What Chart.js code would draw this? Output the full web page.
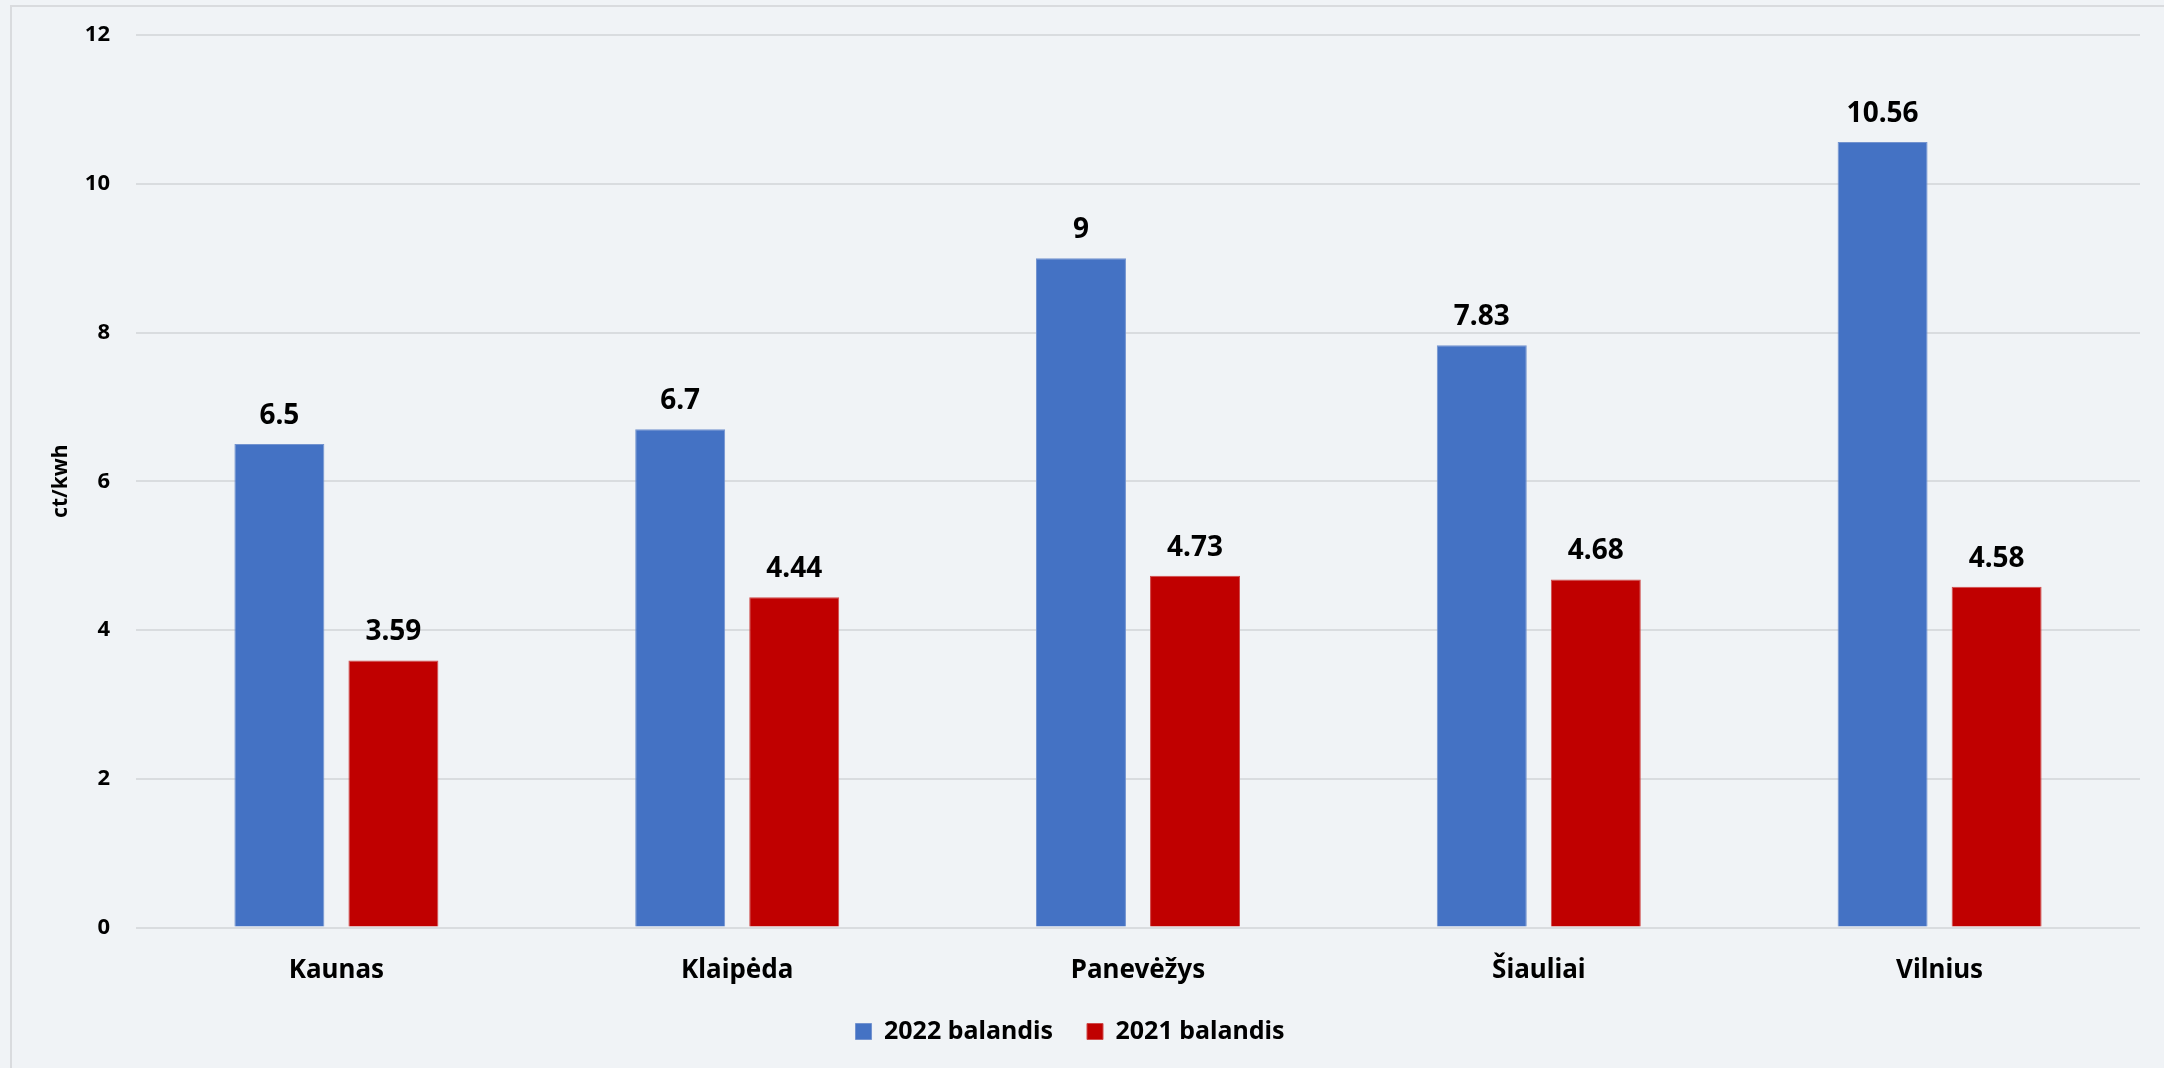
<!DOCTYPE html>
<html>
<head>
<meta charset="utf-8">
<script src="https://cdn.jsdelivr.net/npm/chart.js@4.4.1/dist/chart.umd.min.js"></script>
<style>
  html, body { margin: 0; padding: 0; background: #F0F3F6; }
  #wrap { width: 2164px; height: 1068px; position: relative; }
</style>
</head>
<body>
<div id="wrap"><canvas id="c" width="2164" height="1068"></canvas></div>
<script>
const categories = ['Kaunas', 'Klaipėda', 'Panevėžys', 'Šiauliai', 'Vilnius'];
const series2022 = [6.5, 6.7, 9, 7.83, 10.56];
const series2021 = [3.59, 4.44, 4.73, 4.68, 4.58];
const seriesNames = ['2022 balandis', '2021 balandis'];
const yTicks = [0, 2, 4, 6, 8, 10, 12];
const yTitle = 'ct/kwh';

const FONT = "'Noto Sans', 'DejaVu Sans', sans-serif";

const bgPlugin = {
  id: 'bg',
  beforeLayout(chart) {
    const lg = chart.legend;
    if (lg && !lg._patched) {
      const f = lg.fit;
      lg.fit = function () { f.call(this); this.height = 83; };
      lg._patched = true;
    }
  },
  beforeDraw(chart) {
    const ctx = chart.ctx;
    ctx.save();
    ctx.fillStyle = '#F0F3F6';
    ctx.fillRect(0, 0, chart.width, chart.height);
    ctx.strokeStyle = '#D9DBDE';
    ctx.lineWidth = 2;
    ctx.beginPath();
    ctx.moveTo(11, chart.height + 5);
    ctx.lineTo(11, 6);
    ctx.lineTo(chart.width + 5, 6);
    ctx.stroke();
    ctx.restore();
  }
};

const labelPlugin = {
  id: 'valueLabels',
  afterDatasetsDraw(chart) {
    const ctx = chart.ctx;
    ctx.save();
    ctx.fillStyle = '#000000';
    ctx.font = "bold 28px " + FONT;
    ctx.textAlign = 'center';
    ctx.textBaseline = 'alphabetic';
    chart.data.datasets.forEach((ds, di) => {
      const meta = chart.getDatasetMeta(di);
      meta.data.forEach((bar, i) => {
        ctx.fillText(String(ds.data[i]), bar.x, bar.y - 20);
      });
    });
    ctx.restore();
  }
};

new Chart(document.getElementById('c'), {
  type: 'bar',
  data: {
    labels: categories,
    datasets: [
      { label: seriesNames[0], data: series2022, backgroundColor: '#4472C4', borderColor: '#7393CF', borderWidth: 1,
        categoryPercentage: 0.569, barPercentage: 0.789 },
      { label: seriesNames[1], data: series2021, backgroundColor: '#C00000', borderColor: '#CF4A4A', borderWidth: 1,
        categoryPercentage: 0.569, barPercentage: 0.789 }
    ]
  },
  options: {
    responsive: false,
    animation: false,
    devicePixelRatio: 1,
    layout: { padding: { top: 35, right: 24, bottom: 0, left: 0 } },
    plugins: {
      legend: {
        position: 'bottom',
        labels: {
          boxWidth: 16, boxHeight: 16, padding: 34,
          color: '#000', font: { family: FONT, size: 25, weight: 'bold' }
        }
      },
      tooltip: { enabled: false }
    },
    scales: {
      x: {
        afterFit(scale) { scale.height = 57.5; scale.paddingLeft = 0; scale.paddingRight = 0; },
        grid: { display: false, drawTicks: false },
        border: { display: false },
        ticks: { color: '#000', font: { family: FONT, size: 26, weight: 'bold' }, padding: 27 }
      },
      y: {
        min: 0, max: 12,
        afterFit(scale) { scale.width = 136; scale.paddingTop = 0; scale.paddingBottom = 0; },
        afterBuildTicks(scale) { scale.ticks = yTicks.map(v => ({ value: v })); },
        grid: { color: '#D9DCDF', lineWidth: 2, drawTicks: false },
        border: { display: false },
        ticks: { color: '#000', font: { family: FONT, size: 22, weight: 'bold' }, padding: 26 },
        title: { display: true, text: yTitle, color: '#000', font: { family: FONT, size: 21, weight: 'bold' }, padding: { top: 48, bottom: 0 } }
      }
    }
  },
  plugins: [bgPlugin, labelPlugin]
});
</script>
</body>
</html>
